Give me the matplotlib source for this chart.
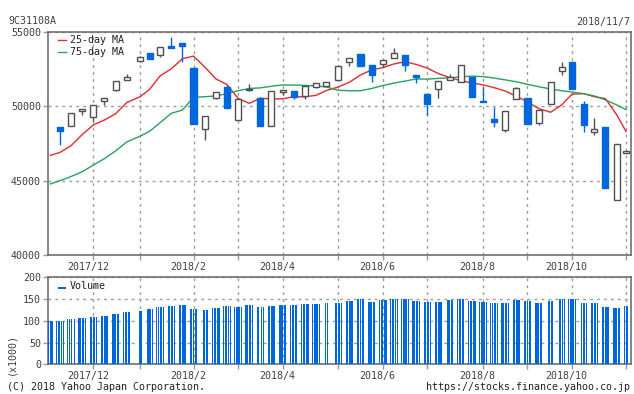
import numpy as np
import pandas as pd
import matplotlib
matplotlib.use('Agg')
import matplotlib.pyplot as plt
import matplotlib.dates as mdates
import matplotlib.transforms as mtransforms

plt.rcParams['font.family'] = 'DejaVu Sans Mono'
plt.rcParams['font.size'] = 7.2

# days without a price (weekends are dropped by bdate_range)
holidays = ['2017-11-23', '2018-01-01', '2018-01-02', '2018-01-03', '2018-01-08',
            '2018-02-12', '2018-03-21', '2018-04-30', '2018-05-03', '2018-05-04',
            '2018-07-16', '2018-09-17', '2018-09-24', '2018-10-08']
first_day = '2017-11-08'
last_day = '2018-11-07'

# weekly candles, week of 2017/11/13 .. week of 2018/11/5
candle_weeks = pd.date_range('2017-11-13', periods=52, freq='W-MON')
opens = [48610, 48680, 49700, 49300, 50340, 51100, 51750, 53030, 53590, 53430,
         54060, 54280, 52580, 48460, 50580, 51280, 49080, 51100, 50580, 48700,
         50950, 51030, 50700, 51280, 51370, 51750, 52960, 53520, 52780, 52870,
         53240, 53480, 52110, 50830, 51140, 51790, 51620, 51970, 50380, 49150,
         48410, 50470, 50580, 48860, 50140, 52360, 52980, 50160, 48290, 48630,
         43680, 46880]
highs = [48610, 49550, 49850, 50100, 50540, 51700, 52180, 53400, 53590, 53970,
         54660, 54280, 52580, 49350, 50960, 51460, 50490, 51500, 50630, 51030,
         51080, 51030, 51370, 51570, 51620, 52710, 53230, 53520, 52780, 53090,
         53900, 53480, 52110, 50830, 51700, 52180, 52780, 51970, 51280, 49980,
         49690, 51280, 50580, 49760, 51620, 52980, 52980, 50360, 49240, 48630,
         47470, 46990]
lows = [47400, 48680, 49420, 49030, 50110, 51050, 51750, 52960, 53200, 53340,
        53950, 53000, 48830, 47740, 50470, 49910, 49080, 51050, 48700, 48700,
        50740, 50470, 50490, 51210, 51370, 51750, 52740, 52740, 51660, 52670,
        53240, 52400, 51600, 49420, 50580, 51790, 51620, 50650, 50310, 48630,
        48290, 50470, 48810, 48770, 50140, 52130, 51170, 48290, 48070, 44530,
        43680, 46880]
closes = [48340, 49550, 49820, 50070, 50540, 51700, 51980, 53320, 53200, 53970,
          53950, 54080, 48830, 49350, 50960, 49910, 50490, 51150, 48700, 51030,
          51080, 50650, 51370, 51570, 51620, 52710, 53230, 52740, 52130, 53090,
          53590, 52800, 51990, 50180, 51700, 51970, 52780, 50650, 50310, 48930,
          49690, 51210, 48810, 49760, 51620, 52670, 51170, 48770, 48460, 44530,
          47470, 46990]

# moving averages and volume (x1000) per week, starting with the part week of 2017/11/6
all_weeks = pd.date_range('2017-11-06', periods=53, freq='W-MON')
ma25 = [46700, 46900, 47330, 48100, 48750, 49080, 49500, 50250, 50650, 51150,
        52050, 52520, 53200, 53380, 52600, 51850, 51470, 50540, 50200, 50540,
        50500, 50500, 50650, 50640, 50740, 51060, 51300, 51620, 52110, 52450,
        52600, 52850, 53000, 52820, 52570, 52200, 51920, 51730, 51580, 51440,
        51260, 51030, 50680, 50300, 49850, 49600, 50100, 50820, 50850, 50650,
        50520, 49450, 48300]
ma75 = [44780, 45000, 45270, 45600, 46050, 46480, 47000, 47600, 48000, 48330,
        48900, 49530, 49750, 50600, 50650, 50700, 50850, 51050, 51200, 51240,
        51350, 51440, 51430, 51410, 51370, 51300, 51080, 51050, 51050, 51200,
        51400, 51560, 51700, 51840, 51830, 51880, 51920, 51990, 52030, 52000,
        51900, 51780, 51650, 51480, 51320, 51170, 51050, 50960, 50850, 50700,
        50430, 50100, 49780]
vol_week = [100, 100, 103, 106, 108, 112, 116, 120, 123, 127, 131, 135, 136,
            128, 124, 130, 134, 132, 137, 132, 134, 137, 137, 139, 139, 140,
            141, 146, 149, 144, 148, 150, 149, 146, 143, 144, 148, 149, 146,
            144, 142, 142, 147, 145, 141, 146, 151, 149, 141, 140, 132, 130, 135]

month_labels = ['2017/12', '2018/2', '2018/4', '2018/6', '2018/8', '2018/10']

BLUE = '#0066dd'
DARK = '#505050'
RED = '#e8282e'
GREEN = '#23a45c'
GRID = '#9a9a9a'
SPINE = '#707070'
TEXT = '#404040'

# trading days and the centre of each week on the date axis
days = pd.bdate_range(first_day, last_day)
days = days[~days.isin(pd.to_datetime(holidays))]
mondays = days - pd.to_timedelta(days.weekday, unit='D')
day_num = mdates.date2num(days)
centre = pd.Series(day_num, index=mondays).groupby(level=0).mean()
week_x = centre.reindex(all_weeks).values
candle_x = centre.reindex(candle_weeks).values
vol_by_week = dict(zip(all_weeks, vol_week))
day_vol = [vol_by_week[m] for m in mondays]

# grid line for each month: first candle whose week starts in that month
grid_x, grid_names = [], []
for m in pd.date_range('2017-12-01', '2018-11-01', freq='MS'):
    hit = [x for w, x in zip(candle_weeks, candle_x) if w.year == m.year and w.month == m.month]
    grid_x.append(hit[0])
    name = '%d/%d' % (m.year, m.month)
    grid_names.append(name if name in month_labels else '')

fig = plt.figure(figsize=(6.34, 3.94), dpi=100)
ax = fig.add_axes([48 / 634, 1 - 255 / 394, 583 / 634, 223 / 394])
axv = fig.add_axes([48 / 634, 1 - 364.3 / 394, 583 / 634, 87 / 394])

xlim = (mdates.date2num(pd.Timestamp('2017-11-07 12:00')),
        mdates.date2num(pd.Timestamp('2018-11-09 02:00')))

# candles
body_w = 3.8
for x, o, h, l, c in zip(candle_x, opens, highs, lows, closes):
    up = c >= o
    col = DARK if up else BLUE
    ax.vlines(x, l, h, color=col, lw=1.0, zorder=3)
    ax.bar(x, abs(c - o), width=body_w, bottom=min(o, c),
           facecolor='white' if up else BLUE, edgecolor=col, lw=1.0, zorder=4)

ax.plot(week_x, ma25, color=RED, lw=1.0, label='25-day MA', zorder=2)
ax.plot(week_x, ma75, color=GREEN, lw=1.0, label='75-day MA', zorder=2)

vb = axv.bar(day_num, day_vol, width=0.7, color=BLUE, lw=0, label='Volume', zorder=3)
for r in vb:
    r.set_antialiased(False)

for a, ylim, yt in ((ax, (40000, 55000), [40000, 45000, 50000, 55000]),
                    (axv, (0, 200), [0, 50, 100, 150, 200])):
    a.set_xlim(xlim)
    a.set_ylim(ylim)
    a.set_yticks(yt)
    a.set_xticks(grid_x)
    a.set_xticklabels(grid_names)
    a.grid(True, color=GRID, lw=1.0, linestyle=(0, (2, 3)))
    a.set_axisbelow(True)
    for s in a.spines.values():
        s.set_color(SPINE)
        s.set_linewidth(1.2)
    a.tick_params(axis='both', direction='out', length=3.5, width=1.0,
                  color=GRID, labelcolor=TEXT, pad=1.5)
    shift = mtransforms.ScaledTranslation(-5.5 / 100, 0, fig.dpi_scale_trans)
    for lab in a.get_xticklabels():
        lab.set_transform(lab.get_transform() + shift)

leg = ax.legend(loc='upper left', bbox_to_anchor=(0.017, 0.985), frameon=False,
                handlelength=0.8, handletextpad=0.4, labelspacing=0.2,
                borderaxespad=0, borderpad=0)
for t in leg.get_texts():
    t.set_color('#222222')
legv = axv.legend(loc='upper left', bbox_to_anchor=(0.017, 0.955), frameon=False,
                  handlelength=0.8, handletextpad=0.4, borderaxespad=0, borderpad=0)
for t in legv.get_texts():
    t.set_color('#222222')
# volume legend marker as a short line like the reference
legv.legend_handles[0].set_height(1.5)

fig.text(8 / 634, 1 - 21.5 / 394, '9C31108A', ha='left', va='center', color=TEXT)
fig.text(630 / 634, 1 - 21.5 / 394, '2018/11/7', ha='right', va='center', color=TEXT)
fig.text(7 / 634, 1 - 386.5 / 394, '(C) 2018 Yahoo Japan Corporation.',
         ha='left', va='center', color='#222222')
fig.text(630 / 634, 1 - 386.5 / 394, 'https://stocks.finance.yahoo.co.jp',
         ha='right', va='center', color='#222222')
fig.text(11 / 634, 1 - 354 / 394, '(x1000)', rotation=90, ha='center', va='center',
         color=TEXT)

fig.savefig('out.png', dpi=100)
